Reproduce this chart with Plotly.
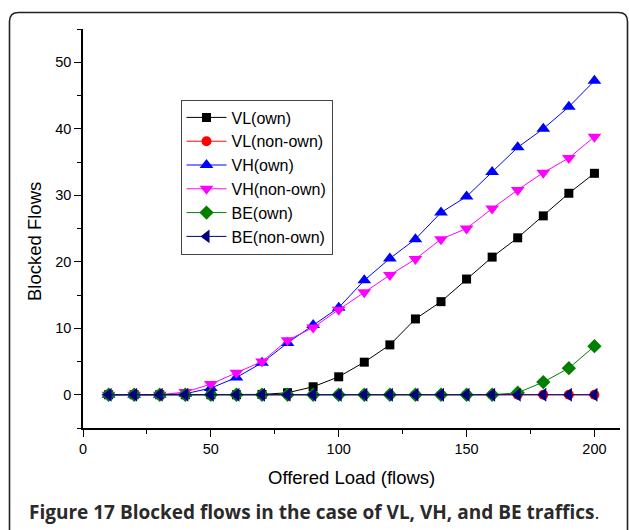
import plotly.graph_objects as go

# ---- data ----
offered_load = [10, 20, 30, 40, 50, 60, 70, 80, 90, 100,
                110, 120, 130, 140, 150, 160, 170, 180, 190, 200]
vl_own = [0, 0, 0, 0, 0, 0, 0.05, 0.3, 1.2, 2.7,
          4.9, 7.5, 11.4, 14.0, 17.4, 20.7, 23.6, 26.9, 30.3, 33.3]
vl_non_own = [0] * 20
vh_own = [0, 0, 0, 0.15, 1.0, 2.6, 4.8, 7.8, 10.5, 13.1,
          17.2, 20.5, 23.4, 27.4, 29.8, 33.5, 37.2, 40.0, 43.3, 47.2]
vh_non_own = [0, 0, 0, 0.4, 1.6, 3.3, 5.0, 8.2, 10.1, 12.8,
              15.4, 18.0, 20.4, 23.4, 25.0, 28.0, 30.8, 33.4, 35.6, 38.8]
be_own = [0, 0, 0, 0, 0, 0, 0, 0, 0, 0,
          0, 0, 0, 0, 0, 0, 0.3, 1.9, 4.0, 7.3]
be_non_own = [0] * 20

series_names = ["VL(own)", "VL(non-own)", "VH(own)", "VH(non-own)", "BE(own)", "BE(non-own)"]
series_values = [vl_own, vl_non_own, vh_own, vh_non_own, be_own, be_non_own]
line_colors = ["#000000", "#FF0000", "#0000FF", "#FF00FF", "#008000", "#000080"]
marker_symbols = ["square", "circle", "triangle-up", "triangle-down", "diamond", "triangle-left"]
marker_sizes = [9, 10, 12, 12, 11, 12]

x_ticks = [0, 50, 100, 150, 200]
y_ticks = [0, 10, 20, 30, 40, 50]

fig = go.Figure()
for name, vals, col, sym, sz in zip(series_names, series_values, line_colors, marker_symbols, marker_sizes):
    fig.add_trace(go.Scatter(
        x=offered_load, y=vals, name=name, mode="lines+markers",
        line=dict(color=col, width=1),
        marker=dict(symbol=sym, size=sz, color=col, line=dict(width=0)),
    ))

W, H = 629, 530
ml, mr, mt, mb = 83, 9, 29, 102
pw, ph = W - ml - mr, H - mt - mb

def px(xp):
    return (xp - ml) / pw

def py(yp):
    return (H - mb - yp) / ph

# rounded frame (left, top, right edges)
L, R, T, B = px(9.5), px(627.5), py(12.5), py(545)
rx, ry = 9 / pw, 9 / ph
frame_path = (f"M {L},{B} L {L},{T-ry} Q {L},{T} {L+rx},{T} "
              f"L {R-rx},{T} Q {R},{T} {R},{T-ry} L {R},{B}")

SANS = "Arial"
axis_font = dict(family=SANS, size=14.5, color="black")

fig.update_layout(
    width=W, height=H,
    margin=dict(l=ml, r=mr, t=mt, b=mb, pad=0),
    paper_bgcolor="white", plot_bgcolor="white",
    showlegend=True,
    legend=dict(
        x=px(180.5), y=py(99.5), xanchor="left", yanchor="top",
        bgcolor="white", bordercolor="#444444", borderwidth=1,
        font=dict(family=SANS, size=16, color="black"),
        itemwidth=40, tracegroupgap=0,
    ),
    xaxis=dict(
        range=[0, 210], tickvals=x_ticks, ticktext=[str(v) for v in x_ticks],
        showgrid=False, zeroline=False, showline=True, linecolor="black", linewidth=1.5,
        ticks="outside", ticklen=7, tickwidth=1.3, tickcolor="black",
        minor=dict(tickvals=[25, 75, 125, 175], ticks="outside", ticklen=4, tickwidth=1.3, tickcolor="black"),
        tickfont=axis_font,
    ),
    yaxis=dict(
        range=[-5, 55], tickvals=y_ticks, ticktext=[str(v) for v in y_ticks],
        showgrid=False, zeroline=False, showline=True, linecolor="black", linewidth=1.5,
        ticks="outside", ticklen=7, tickwidth=1.3, tickcolor="black",
        minor=dict(tickvals=[-5, 5, 15, 25, 35, 45, 55], ticks="outside", ticklen=4, tickwidth=1.3, tickcolor="black"),
        tickfont=axis_font,
    ),
    shapes=[dict(type="path", xref="paper", yref="paper", path=frame_path,
                 line=dict(color="#222222", width=1.6), layer="below")],
    annotations=[
        dict(text="Offered Load (flows)", xref="paper", yref="paper",
             x=px(351.5), y=py(478), xanchor="center", yanchor="middle", showarrow=False,
             font=dict(family=SANS, size=18.5, color="black")),
        dict(text="Blocked Flows", xref="paper", yref="paper", textangle=-90,
             x=px(34), y=py(242), xanchor="center", yanchor="middle", showarrow=False,
             font=dict(family=SANS, size=18.5, color="black")),
        dict(text="<b>Figure 17 Blocked flows in the case of VL, VH, and BE traffics</b>.",
             xref="paper", yref="paper", x=px(27), y=py(512), xanchor="left", yanchor="middle",
             showarrow=False, font=dict(family="Open Sans", size=19, color="#2a2a2a")),
    ],
)

fig.write_html("out.html")
